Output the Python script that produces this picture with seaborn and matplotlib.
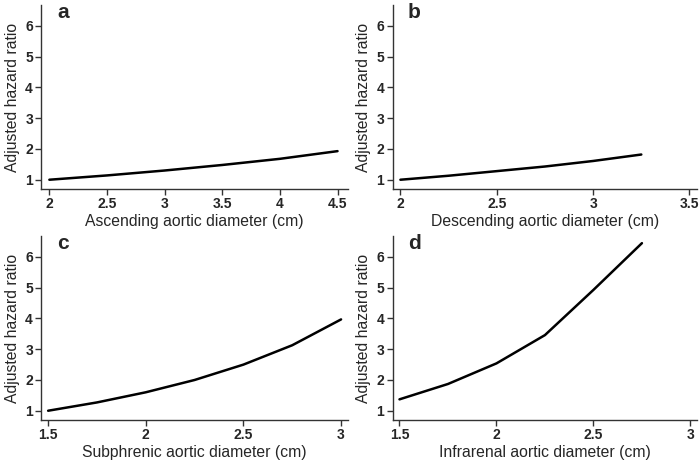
import numpy as np
import pandas as pd
import matplotlib
matplotlib.use("Agg")
import matplotlib.pyplot as plt
import seaborn as sns

# 数据
asc_x = [2.0, 2.5, 3.0, 3.5, 4.0, 4.5]
asc_hr = [1.00, 1.14, 1.30, 1.48, 1.68, 1.93]

desc_x = [2.0, 2.25, 2.5, 2.75, 3.0, 3.25]
desc_hr = [1.00, 1.13, 1.28, 1.43, 1.61, 1.82]

subph_x = [1.5, 1.75, 2.0, 2.25, 2.5, 2.75, 3.0]
subph_hr = [1.00, 1.27, 1.60, 2.00, 2.50, 3.13, 3.97]

infra_x = [1.5, 1.75, 2.0, 2.25, 2.5, 2.75]
infra_hr = [1.37, 1.87, 2.54, 3.46, 4.93, 6.45]

panels = [
    ("a", "Ascending aortic diameter (cm)", asc_x, asc_hr, [2, 2.5, 3, 3.5, 4, 4.5], ["2", "2.5", "3", "3.5", "4", "4.5"], (1.93, 4.59)),
    ("b", "Descending aortic diameter (cm)", desc_x, desc_hr, [2, 2.5, 3, 3.5], ["2", "2.5", "3", "3.5"], (1.96, 3.54)),
    ("c", "Subphrenic aortic diameter (cm)", subph_x, subph_hr, [1.5, 2, 2.5, 3], ["1.5", "2", "2.5", "3"], (1.465, 3.035)),
    ("d", "Infrarenal aortic diameter (cm)", infra_x, infra_hr, [1.5, 2, 2.5, 3], ["1.5", "2", "2.5", "3"], (1.465, 3.035)),
]

sns.set_style("ticks")
plt.rcParams['font.family'] = ['Liberation Sans', 'DejaVu Sans']

fig = plt.figure(figsize=(7, 4.62), dpi=100)

# 子图位置
boxes = [
    [0.059, 0.591, 0.438, 0.398],
    [0.561, 0.591, 0.435, 0.398],
    [0.059, 0.091, 0.438, 0.398],
    [0.561, 0.091, 0.435, 0.398],
]

for (letter, xlabel, xs, ys, xt, xtl, xlim), box in zip(panels, boxes):
    ax = fig.add_axes(box)
    df = pd.DataFrame({"x": xs, "hr": ys})
    sns.lineplot(data=df, x="x", y="hr", ax=ax, color="black", linewidth=1.8)
    ax.set_xlim(*xlim)
    ax.set_ylim(0.7, 6.68)
    ax.set_xticks(xt)
    ax.set_xticklabels(xtl)
    ax.set_yticks([1, 2, 3, 4, 5, 6])
    ax.set_yticklabels(["1", "2", "3", "4", "5", "6"])
    for lab in ax.get_xticklabels() + ax.get_yticklabels():
        lab.set_fontweight("bold")
        lab.set_fontsize(10)
    ax.tick_params(axis="both", length=4, width=1.0, color="#333333", pad=2)
    ax.set_xlabel(xlabel, fontsize=11.3, labelpad=2)
    ax.set_ylabel("Adjusted hazard ratio", fontsize=11.3, labelpad=4)
    sns.despine(ax=ax)
    for s in ["left", "bottom"]:
        ax.spines[s].set_color("#333333")
        ax.spines[s].set_linewidth(1.0)
    ax.text(0.07, 0.96, letter, transform=ax.transAxes, fontsize=15,
            fontweight="bold", ha="center", va="center")

plt.savefig("out.png", dpi=100)
